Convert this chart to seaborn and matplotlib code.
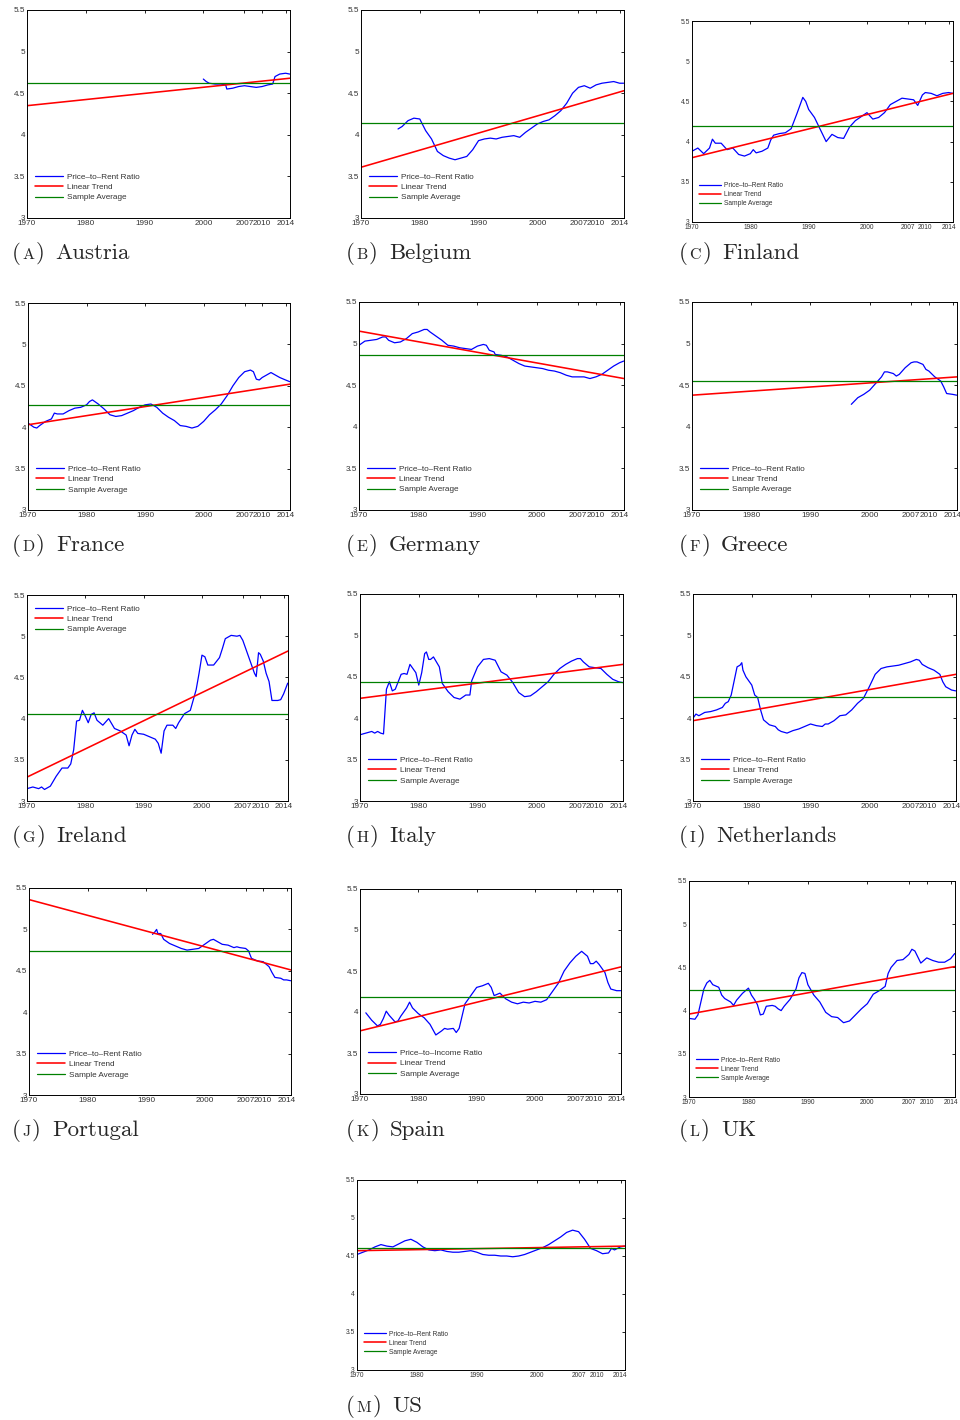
import numpy as np
import matplotlib
matplotlib.use("Agg")
import matplotlib.pyplot as plt
import seaborn as sns

# %% data (log price-to-rent ratios)
austria_year = [2000, 2000.5, 2001, 2002, 2003, 2003.8, 2004, 2005, 2006, 2007, 2008, 2009, 2010, 2011, 2011.8, 2012.2, 2013, 2014, 2014.7]
austria_ratio = [4.67, 4.64, 4.62, 4.61, 4.61, 4.60, 4.55, 4.56, 4.58, 4.59, 4.58, 4.57, 4.58, 4.60, 4.61, 4.70, 4.73, 4.74, 4.73]

belgium_year = [1976.3, 1977, 1978, 1979, 1980, 1981, 1982, 1983, 1984, 1985, 1986, 1987, 1988, 1989, 1990, 1991, 1992, 1993, 1994, 1995, 1996, 1997, 1998, 1999, 2000, 2001, 2002, 2003, 2004, 2005, 2006, 2007, 2008, 2009, 2010, 2011, 2012, 2013, 2014, 2014.7]
belgium_ratio = [4.07, 4.10, 4.17, 4.20, 4.19, 4.05, 3.95, 3.80, 3.75, 3.72, 3.70, 3.72, 3.74, 3.82, 3.93, 3.95, 3.96, 3.95, 3.97, 3.98, 3.99, 3.97, 4.03, 4.08, 4.13, 4.16, 4.18, 4.23, 4.29, 4.38, 4.50, 4.57, 4.59, 4.56, 4.60, 4.62, 4.63, 4.64, 4.62, 4.62]

finland_year = [1970, 1971, 1972, 1973, 1973.5, 1974, 1975, 1976, 1977, 1978, 1979, 1980, 1980.5, 1981, 1982, 1983, 1983.5, 1984, 1985, 1986, 1987, 1988, 1989, 1989.5, 1990, 1991, 1992, 1993, 1994, 1995, 1996, 1997, 1998, 1999, 2000, 2001, 2002, 2003, 2004, 2005, 2006, 2007, 2008, 2008.7, 2009.5, 2010, 2011, 2012, 2013, 2014, 2014.7]
finland_ratio = [3.88, 3.92, 3.85, 3.92, 4.03, 3.98, 3.98, 3.90, 3.92, 3.84, 3.82, 3.85, 3.90, 3.86, 3.88, 3.92, 4.02, 4.08, 4.10, 4.11, 4.16, 4.35, 4.55, 4.50, 4.40, 4.30, 4.15, 4.00, 4.09, 4.05, 4.04, 4.18, 4.26, 4.31, 4.36, 4.28, 4.30, 4.36, 4.46, 4.50, 4.54, 4.53, 4.52, 4.45, 4.58, 4.61, 4.60, 4.57, 4.60, 4.61, 4.60]

france_year = [1970, 1971, 1971.5, 1972, 1973, 1974, 1974.5, 1975, 1976, 1977, 1978, 1979, 1980, 1980.5, 1981, 1982, 1983, 1984, 1985, 1986, 1987, 1988, 1989, 1990, 1991, 1992, 1993, 1994, 1995, 1996, 1997, 1998, 1999, 2000, 2001, 2002, 2003, 2004, 2005, 2006, 2007, 2008, 2008.5, 2009, 2009.5, 2010, 2011, 2011.5, 2012, 2013, 2014, 2014.7]
france_ratio = [4.05, 4.00, 3.99, 4.02, 4.07, 4.10, 4.17, 4.16, 4.16, 4.20, 4.23, 4.24, 4.27, 4.31, 4.33, 4.28, 4.22, 4.15, 4.13, 4.14, 4.17, 4.20, 4.24, 4.27, 4.28, 4.24, 4.17, 4.12, 4.08, 4.02, 4.01, 3.99, 4.01, 4.07, 4.15, 4.21, 4.28, 4.38, 4.50, 4.60, 4.67, 4.69, 4.67, 4.58, 4.57, 4.60, 4.64, 4.66, 4.64, 4.60, 4.57, 4.55]

germany_year = [1970, 1971, 1972, 1973, 1974, 1974.5, 1975, 1976, 1977, 1978, 1979, 1980, 1981, 1981.5, 1982, 1983, 1984, 1985, 1986, 1987, 1988, 1989, 1990, 1991, 1991.5, 1992, 1992.8, 1993, 1994, 1995, 1996, 1997, 1998, 1999, 2000, 2001, 2002, 2003, 2004, 2005, 2006, 2007, 2008, 2009, 2010, 2011, 2012, 2013, 2014, 2014.7]
germany_ratio = [4.98, 5.03, 5.04, 5.05, 5.08, 5.08, 5.04, 5.01, 5.02, 5.06, 5.12, 5.14, 5.17, 5.17, 5.14, 5.09, 5.04, 4.98, 4.97, 4.95, 4.94, 4.93, 4.97, 4.99, 4.98, 4.92, 4.90, 4.87, 4.86, 4.84, 4.80, 4.76, 4.73, 4.72, 4.71, 4.70, 4.68, 4.67, 4.65, 4.62, 4.60, 4.60, 4.60, 4.58, 4.60, 4.63, 4.68, 4.73, 4.77, 4.79]

greece_year = [1996.9, 1998, 1999, 2000, 2001, 2002, 2002.5, 2003, 2004, 2004.5, 2005, 2006, 2007, 2007.5, 2008, 2009, 2009.5, 2010, 2011, 2012, 2012.5, 2013, 2014, 2014.7]
greece_ratio = [4.27, 4.35, 4.39, 4.44, 4.52, 4.60, 4.66, 4.66, 4.64, 4.61, 4.63, 4.71, 4.77, 4.78, 4.78, 4.75, 4.69, 4.67, 4.60, 4.55, 4.48, 4.40, 4.39, 4.38]

ireland_year = [1970, 1971, 1972, 1972.5, 1973, 1974, 1975, 1976, 1977, 1977.5, 1978, 1978.5, 1979, 1979.5, 1980, 1980.5, 1981, 1981.5, 1982, 1983, 1984, 1985, 1986, 1987, 1987.5, 1988, 1988.5, 1989, 1990, 1991, 1992, 1992.5, 1993, 1993.5, 1994, 1995, 1995.5, 1996, 1997, 1998, 1999, 1999.5, 2000, 2000.5, 2001, 2002, 2003, 2003.5, 2004, 2005, 2006, 2006.5, 2007, 2008, 2009, 2009.3, 2009.7, 2010, 2010.5, 2011, 2011.5, 2012, 2013, 2013.5, 2014, 2014.7]
ireland_ratio = [3.15, 3.17, 3.15, 3.17, 3.14, 3.18, 3.30, 3.40, 3.40, 3.45, 3.62, 3.97, 3.98, 4.10, 4.03, 3.95, 4.05, 4.07, 3.98, 3.92, 4.00, 3.88, 3.85, 3.80, 3.67, 3.80, 3.87, 3.82, 3.81, 3.78, 3.75, 3.70, 3.58, 3.85, 3.92, 3.92, 3.88, 3.95, 4.06, 4.10, 4.35, 4.55, 4.77, 4.75, 4.65, 4.65, 4.74, 4.85, 4.97, 5.01, 5.00, 5.01, 4.95, 4.75, 4.55, 4.51, 4.80, 4.78, 4.70, 4.55, 4.45, 4.22, 4.22, 4.23, 4.30, 4.43]

italy_year = [1970, 1971, 1972, 1972.5, 1973, 1973.5, 1974, 1974.5, 1975, 1975.5, 1976, 1977, 1977.5, 1978, 1978.5, 1979, 1979.5, 1980, 1980.5, 1981, 1981.3, 1981.7, 1982, 1982.5, 1983, 1983.5, 1984, 1985, 1986, 1987, 1988, 1988.7, 1989, 1990, 1991, 1992, 1993, 1994, 1995, 1996, 1997, 1998, 1999, 2000, 2001, 2002, 2003, 2004, 2005, 2006, 2007, 2007.5, 2008, 2009, 2010, 2011, 2012, 2013, 2014, 2014.7]
italy_ratio = [3.80, 3.82, 3.84, 3.82, 3.84, 3.82, 3.81, 4.35, 4.44, 4.33, 4.35, 4.53, 4.54, 4.53, 4.65, 4.60, 4.55, 4.40, 4.55, 4.78, 4.80, 4.71, 4.71, 4.74, 4.68, 4.62, 4.42, 4.32, 4.25, 4.23, 4.28, 4.28, 4.45, 4.62, 4.71, 4.72, 4.70, 4.56, 4.52, 4.43, 4.31, 4.26, 4.27, 4.32, 4.38, 4.44, 4.53, 4.60, 4.65, 4.69, 4.72, 4.72, 4.68, 4.62, 4.61, 4.60, 4.53, 4.47, 4.44, 4.43]

netherlands_year = [1970, 1970.5, 1971, 1972, 1973, 1974, 1975, 1975.5, 1976, 1976.5, 1977, 1977.5, 1978, 1978.3, 1978.5, 1979, 1980, 1980.5, 1981, 1981.5, 1982, 1983, 1984, 1984.5, 1985, 1986, 1987, 1988, 1989, 1990, 1991, 1992, 1992.5, 1993, 1994, 1995, 1996, 1997, 1998, 1999, 2000, 2001, 2002, 2003, 2004, 2005, 2006, 2007, 2008, 2008.5, 2009, 2010, 2011, 2012, 2012.5, 2013, 2014, 2014.7]
netherlands_ratio = [4.00, 4.05, 4.03, 4.07, 4.08, 4.10, 4.13, 4.18, 4.20, 4.28, 4.45, 4.62, 4.64, 4.67, 4.58, 4.50, 4.40, 4.28, 4.25, 4.10, 3.98, 3.92, 3.90, 3.86, 3.84, 3.82, 3.85, 3.87, 3.90, 3.93, 3.91, 3.90, 3.93, 3.93, 3.97, 4.03, 4.04, 4.10, 4.18, 4.24, 4.38, 4.53, 4.60, 4.62, 4.63, 4.64, 4.66, 4.68, 4.71, 4.70, 4.65, 4.61, 4.58, 4.53, 4.44, 4.38, 4.34, 4.33]

portugal_year = [1991.1, 1991.5, 1991.8, 1992, 1992.5, 1993, 1994, 1995, 1996, 1997, 1998, 1999, 2000, 2001, 2001.5, 2002, 2003, 2004, 2005, 2005.5, 2006, 2007, 2007.5, 2008, 2009, 2010, 2011, 2011.5, 2012, 2013, 2013.5, 2014, 2014.7]
portugal_ratio = [4.94, 4.97, 5.00, 4.95, 4.95, 4.88, 4.83, 4.80, 4.77, 4.75, 4.76, 4.77, 4.82, 4.87, 4.88, 4.86, 4.82, 4.81, 4.78, 4.79, 4.78, 4.77, 4.74, 4.65, 4.62, 4.61, 4.55, 4.48, 4.42, 4.41, 4.39, 4.39, 4.38]

spain_year = [1971, 1972, 1973, 1973.5, 1974, 1974.5, 1975, 1976, 1976.5, 1977, 1978, 1978.5, 1979, 1980, 1981, 1982, 1983, 1984, 1984.5, 1985, 1986, 1986.5, 1987, 1987.5, 1988, 1989, 1990, 1991, 1992, 1992.5, 1993, 1994, 1995, 1996, 1997, 1998, 1999, 2000, 2001, 2002, 2003, 2004, 2005, 2006, 2007, 2008, 2009, 2009.5, 2010, 2010.5, 2011, 2012, 2012.5, 2013, 2014, 2014.7]
spain_ratio = [3.99, 3.90, 3.83, 3.85, 3.92, 4.01, 3.96, 3.88, 3.89, 3.95, 4.05, 4.12, 4.05, 3.98, 3.93, 3.85, 3.72, 3.77, 3.80, 3.79, 3.80, 3.75, 3.80, 3.95, 4.10, 4.20, 4.30, 4.32, 4.35, 4.30, 4.20, 4.23, 4.16, 4.12, 4.10, 4.12, 4.11, 4.13, 4.12, 4.15, 4.25, 4.35, 4.50, 4.60, 4.68, 4.74, 4.68, 4.59, 4.59, 4.62, 4.58, 4.48, 4.36, 4.28, 4.26, 4.26]

uk_year = [1970, 1971, 1971.5, 1972, 1972.5, 1973, 1973.5, 1974, 1975, 1975.5, 1976, 1977, 1977.5, 1978, 1979, 1980, 1980.5, 1981, 1981.5, 1982, 1982.5, 1983, 1984, 1984.5, 1985, 1985.5, 1986, 1987, 1988, 1988.5, 1989, 1989.5, 1990, 1991, 1992, 1993, 1994, 1995, 1996, 1997, 1998, 1999, 2000, 2001, 2002, 2003, 2003.5, 2004, 2005, 2006, 2007, 2007.5, 2008, 2009, 2010, 2011, 2012, 2013, 2014, 2014.7]
uk_ratio = [3.91, 3.90, 3.95, 4.10, 4.25, 4.32, 4.35, 4.30, 4.27, 4.18, 4.14, 4.10, 4.06, 4.12, 4.20, 4.26, 4.18, 4.13, 4.07, 3.95, 3.96, 4.05, 4.06, 4.05, 4.02, 4.00, 4.05, 4.13, 4.25, 4.38, 4.44, 4.43, 4.30, 4.18, 4.10, 3.98, 3.93, 3.92, 3.86, 3.88, 3.95, 4.02, 4.08, 4.19, 4.23, 4.28, 4.43, 4.50, 4.58, 4.59, 4.65, 4.71, 4.69, 4.55, 4.61, 4.58, 4.56, 4.56, 4.60, 4.66]

us_year = [1970, 1971, 1972, 1973, 1974, 1975, 1976, 1977, 1978, 1979, 1980, 1981, 1982, 1983, 1984, 1985, 1986, 1987, 1988, 1989, 1990, 1991, 1992, 1993, 1994, 1995, 1996, 1997, 1998, 1999, 2000, 2001, 2002, 2003, 2004, 2005, 2006, 2007, 2008, 2009, 2010, 2011, 2012, 2012.5, 2013, 2014, 2014.7]
us_ratio = [4.52, 4.55, 4.58, 4.62, 4.65, 4.63, 4.62, 4.66, 4.70, 4.72, 4.68, 4.62, 4.58, 4.57, 4.58, 4.56, 4.55, 4.55, 4.56, 4.57, 4.55, 4.52, 4.51, 4.51, 4.50, 4.50, 4.49, 4.50, 4.52, 4.55, 4.58, 4.61, 4.65, 4.70, 4.75, 4.81, 4.84, 4.82, 4.72, 4.60, 4.57, 4.53, 4.54, 4.60, 4.58, 4.62, 4.63]

countries = ["Austria", "Belgium", "Finland", "France", "Germany", "Greece", "Ireland",
             "Italy", "Netherlands", "Portugal", "Spain", "UK", "US"]
letters = ["A", "B", "C", "D", "E", "F", "G", "H", "I", "J", "K", "L", "M"]
# linear trend at 1970 and at end of sample, plus the sample average
trend_start = [4.35, 3.61, 3.80, 4.03, 5.15, 4.38, 3.29, 4.24, 3.97, 5.36, 3.77, 3.96, 4.57]
trend_end = [4.68, 4.53, 4.60, 4.52, 4.58, 4.60, 4.82, 4.65, 4.53, 4.51, 4.55, 4.51, 4.63]
sample_avg = [4.62, 4.14, 4.20, 4.27, 4.86, 4.55, 4.06, 4.44, 4.26, 4.74, 4.18, 4.24, 4.60]
trend_years = [1970, 2014.75]
xticks = [1970, 1980, 1990, 2000, 2007, 2010, 2014]
yticks = [3, 3.5, 4, 4.5, 5, 5.5]
ytick_labels = ["3", "3.5", "4", "4.5", "5", "5.5"]

series = [(austria_year, austria_ratio), (belgium_year, belgium_ratio), (finland_year, finland_ratio),
          (france_year, france_ratio), (germany_year, germany_ratio), (greece_year, greece_ratio),
          (ireland_year, ireland_ratio), (italy_year, italy_ratio), (netherlands_year, netherlands_ratio),
          (portugal_year, portugal_ratio), (spain_year, spain_ratio), (uk_year, uk_ratio), (us_year, us_ratio)]

# %% layout (pixel boxes: left, right, top, bottom) and caption anchors
boxes = [(27, 290, 10, 218), (361, 624, 10, 218), (692, 953, 21, 222),
         (28, 290, 303, 510), (359, 624, 302, 510), (692, 957, 302, 510),
         (27, 288, 595, 801), (360, 623, 594, 801), (693, 956, 594, 801),
         (29, 291, 888, 1095), (360, 621, 889, 1094), (689, 955, 881, 1097),
         (357, 625, 1180, 1370)]
captions = [(12, 253), (346, 253), (679, 253), (12, 545), (346, 545), (679, 545),
            (12, 836), (346, 836), (679, 836), (12, 1130), (346, 1130), (679, 1130),
            (346, 1406)]
small = {"Finland", "UK", "US"}

sns.set_style("white")
plt.rcParams["font.family"] = ["Liberation Sans", "DejaVu Sans"]
W, H = 960, 1420
fig = plt.figure(figsize=(W / 100, H / 100), dpi=100)

for i, name in enumerate(countries):
    l, r, t, b = boxes[i]
    ax = fig.add_axes([l / W, 1 - b / H, (r - l) / W, (b - t) / H])
    yrs, vals = series[i]
    fs = 4.8 if name in small else 5.9
    ratio_label = "Price\u2013to\u2013Income Ratio" if name == "Spain" else "Price\u2013to\u2013Rent Ratio"
    sns.lineplot(x=yrs, y=vals, ax=ax, color="#0000ff", lw=0.9, label=ratio_label,
                 sort=False, estimator=None)
    sns.lineplot(x=trend_years, y=[trend_start[i], trend_end[i]], ax=ax, color="#ff0000",
                 lw=1.15, label="Linear Trend", sort=False, estimator=None)
    sns.lineplot(x=trend_years, y=[sample_avg[i], sample_avg[i]], ax=ax, color="#008000",
                 lw=0.9, label="Sample Average", sort=False, estimator=None)
    ax.set_xlim(1970, 2014.75)
    ax.set_ylim(3, 5.5)
    ax.set_xticks(xticks)
    ax.set_xticklabels([str(x) for x in xticks], fontsize=fs)
    ax.set_yticks(yticks)
    ax.set_yticklabels(ytick_labels, fontsize=fs)
    ax.tick_params(direction="in", length=2.5, width=0.6, top=True, right=True,
                   pad=1.5, colors="black", labelcolor="#333333")
    ax.set_xlabel("")
    ax.set_ylabel("")
    for s in ax.spines.values():
        s.set_color("black")
        s.set_linewidth(0.7)
    loc = "upper left" if name == "Ireland" else "lower left"
    anchor = (0.0, 0.99) if name == "Ireland" else (0.0, 0.04)
    leg = ax.legend(loc=loc, bbox_to_anchor=anchor, frameon=False, fontsize=fs,
                    handlelength=3.4, handletextpad=0.45, labelspacing=0.3, borderaxespad=0.6)
    for txt in leg.get_texts():
        txt.set_color("#333333")

# captions "(A) Austria" with small-cap letters, Computer Modern style
fig.canvas.draw()
renderer = fig.canvas.get_renderer()
cap_font = "cmr10"
for i, name in enumerate(countries):
    x0, yc = captions[i]
    x = x0
    for txt, size, gap in [("(", 16.5, 1.5), (letters[i], 11.5, 1.5), (")", 16.5, 11), (name, 16.5, 0)]:
        t = fig.text(x / W, 1 - (yc + 6) / H, txt, fontsize=size, family=cap_font,
                     ha="left", va="baseline")
        bb = t.get_window_extent(renderer)
        x += bb.width + gap

plt.savefig("out.png", dpi=100)
